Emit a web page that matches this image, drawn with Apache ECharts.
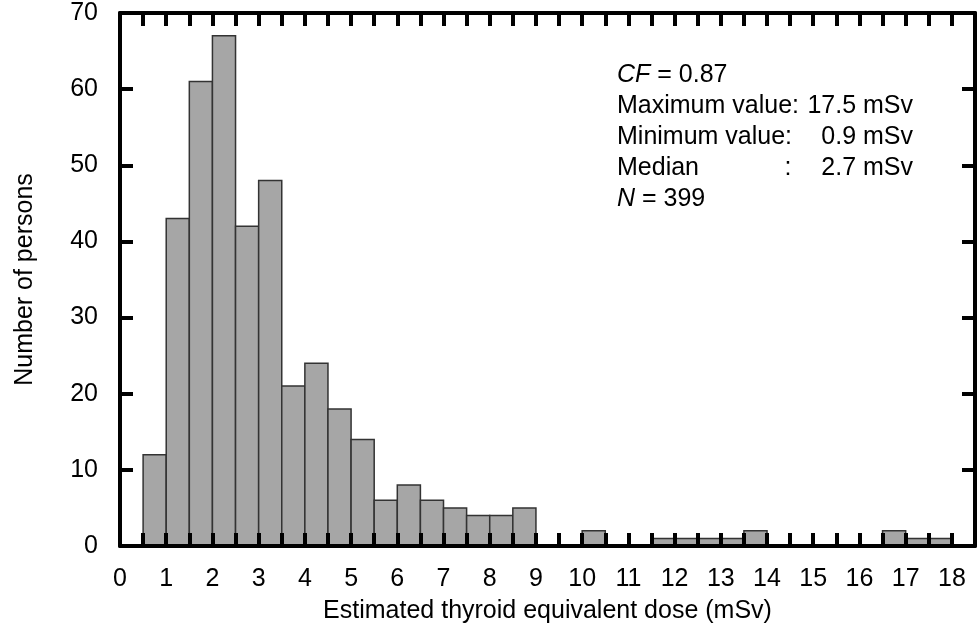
<!DOCTYPE html>
<html>
<head>
    <meta charset="utf-8">
    <title>Thyroid dose histogram</title>
    <script src="https://cdn.jsdelivr.net/npm/echarts@6/dist/echarts.min.js"></script>
    <style>
        html, body { margin: 0; padding: 0; background: #fff; }
        #chart { width: 980px; height: 629px; }
    </style>
</head>
<body>
<div id="chart"></div>
<script type="text/javascript">
    // histogram bins (left edge, mSv) and number of persons in each
    var binStarts = [0.5, 1, 1.5, 2, 2.5, 3, 3.5, 4, 4.5, 5, 5.5, 6, 6.5, 7, 7.5, 8, 8.5,
                     9, 9.5, 10, 10.5, 11, 11.5, 12, 12.5, 13, 13.5, 14, 14.5, 15, 15.5, 16, 16.5, 17, 17.5];
    var counts = [12, 43, 61, 67, 42, 48, 21, 24, 18, 14, 6, 8, 6, 5, 4, 4, 5,
                  0, 0, 2, 0, 0, 1, 1, 1, 1, 2, 0, 0, 0, 0, 0, 2, 1, 1];
    var binWidth = 0.5;

    var xRange = [0, 18.5];
    var yRange = [0, 70];
    var yStep = 10;

    var infoLines = [
        ['{i|CF} = 0.87', ''],
        ['Maximum value:', '17.5 mSv'],
        ['Minimum value:', '0.9 mSv'],
        ['Median', '2.7 mSv'],
        ['{i|N} = 399', '']
    ];

    var FONT = 'Liberation Sans, Arial, sans-serif';
    var FS = 25;

    var data = binStarts.map(function (s, i) { return [s, s + binWidth, counts[i]]; });

    var chart = echarts.init(document.getElementById('chart'));

    var tickStyle = { show: true, inside: true, length: 13, lineStyle: { color: '#000', width: 4 } };
    var lineStyle = { show: true, onZero: false, lineStyle: { color: '#000', width: 4 } };

    // info text block
    var graphics = [];
    infoLines.forEach(function (ln, i) {
        var y = 75 + i * 31;
        graphics.push({
            type: 'text', x: 617, y: y,
            style: {
                text: ln[0], fill: '#000', font: FS + 'px ' + FONT, verticalAlign: 'middle',
                rich: { i: { fontStyle: 'italic', fontSize: FS, fontFamily: FONT, fill: '#000' } }
            }
        });
        if (ln[1]) {
            graphics.push({
                type: 'text', x: 913, y: y,
                style: { text: ln[1], fill: '#000', font: FS + 'px ' + FONT, align: 'right', verticalAlign: 'middle' }
            });
        }
    });
    graphics.push({
        type: 'text', x: 788, y: 75 + 3 * 31,
        style: { text: ':', fill: '#000', font: FS + 'px ' + FONT, align: 'center', verticalAlign: 'middle' }
    });

    chart.setOption({
        animation: false,
        textStyle: { fontFamily: FONT },
        grid: { left: 120, right: 5, top: 13, bottom: 81 },
        xAxis: [{
            type: 'value', position: 'bottom', min: xRange[0], max: xRange[1], interval: binWidth,
            z: 5,
            name: 'Estimated thyroid equivalent dose (mSv)', nameLocation: 'middle', nameGap: 53,
            nameTextStyle: { fontSize: FS, color: '#000', fontFamily: FONT },
            axisLine: lineStyle, axisTick: tickStyle, splitLine: { show: false },
            axisLabel: {
                fontSize: FS, color: '#000', margin: 21, fontFamily: FONT,
                showMaxLabel: false,
                formatter: function (v) { return v % 1 === 0 ? String(v) : ''; }
            }
        }, {
            type: 'value', position: 'top', min: xRange[0], max: xRange[1], interval: binWidth,
            z: 5,
            axisLine: lineStyle, axisTick: tickStyle, splitLine: { show: false },
            axisLabel: { show: false }
        }],
        yAxis: [{
            type: 'value', position: 'left', min: yRange[0], max: yRange[1], interval: yStep,
            z: 5,
            name: 'Number of persons', nameLocation: 'middle', nameGap: 82,
            nameTextStyle: { fontSize: FS, color: '#000', fontFamily: FONT },
            axisLine: lineStyle, axisTick: tickStyle, splitLine: { show: false },
            axisLabel: { fontSize: FS, color: '#000', margin: 22, fontFamily: FONT }
        }, {
            type: 'value', position: 'right', min: yRange[0], max: yRange[1], interval: yStep,
            z: 5,
            axisLine: lineStyle, axisTick: tickStyle, splitLine: { show: false },
            axisLabel: { show: false }
        }],
        graphic: graphics,
        series: [{
            type: 'custom',
            z: 1,
            xAxisIndex: 0,
            yAxisIndex: 0,
            data: data,
            encode: { x: [0, 1], y: 2 },
            renderItem: function (params, api) {
                if (!api.value(2)) return null;
                var p0 = api.coord([api.value(0), api.value(2)]);
                var p1 = api.coord([api.value(1), 0]);
                return {
                    type: 'rect',
                    shape: { x: p0[0], y: p0[1], width: p1[0] - p0[0], height: p1[1] - p0[1] },
                    style: { fill: '#a6a6a6', stroke: '#333', lineWidth: 1.5 }
                };
            }
        }]
    });
</script>
</body>
</html>
